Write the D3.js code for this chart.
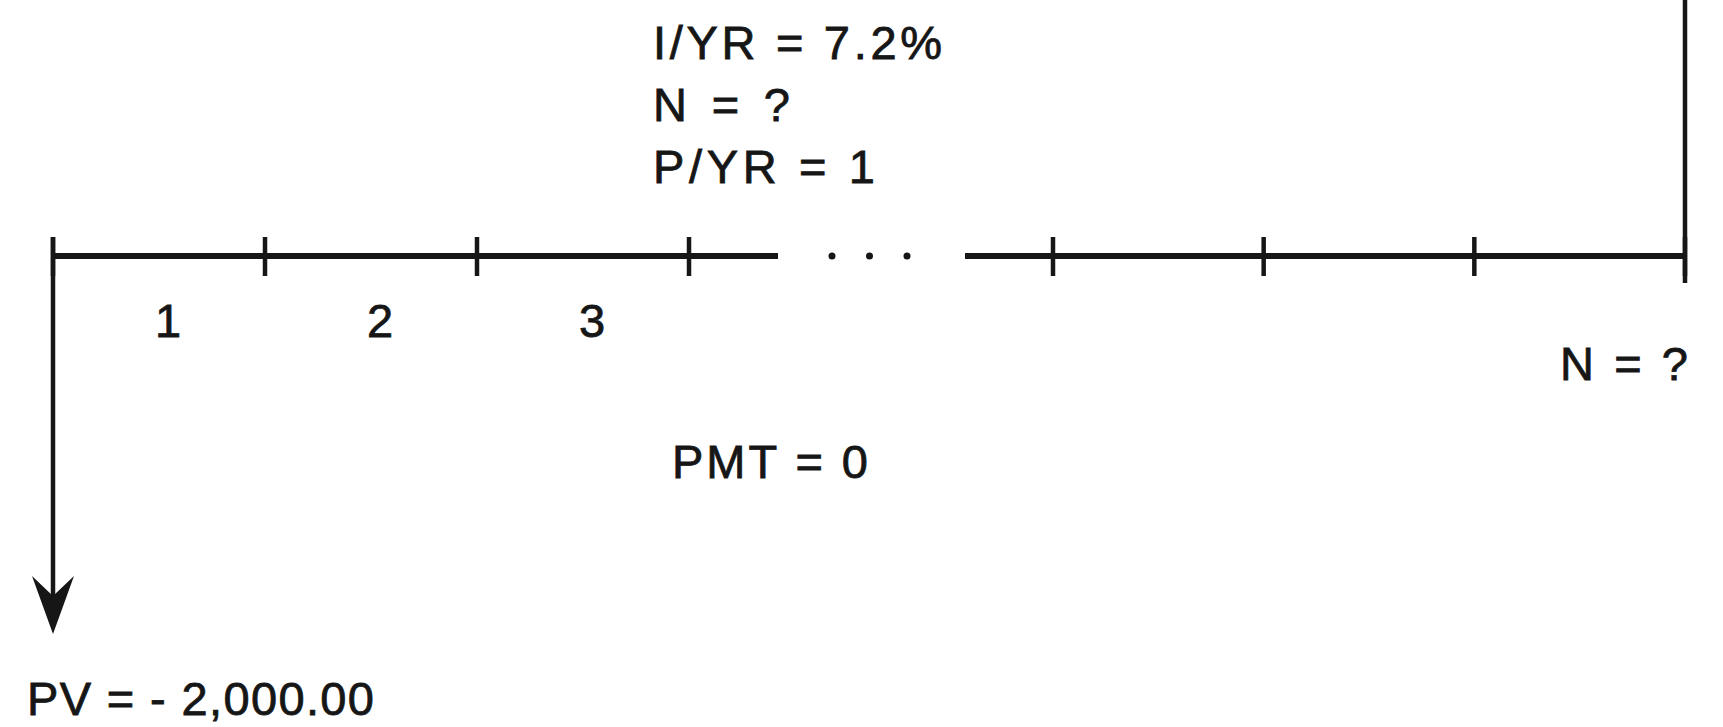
<!DOCTYPE html>
<html><head><meta charset="utf-8">
<script src="https://cdn.jsdelivr.net/npm/d3@7"></script>
<style>html,body{margin:0;padding:0;background:#fff;}svg{display:block;}</style>
</head><body>
<svg id="chart" width="1723" height="727"></svg>
<script>
// ---- data ----
const tickPeriods = ["0", "1", "2", "3", "N-3", "N-2", "N-1", "N"];
const periodLabels = ["1", "2", "3"];
const inputLines = ["I/YR = 7.2%", "N = ?", "P/YR = 1"];
const pmtLabel = "PMT = 0";
const pvLabel = "PV = - 2,000.00";
const nLabel = "N = ?";
const cashFlowPeriods = ["0", "N"];
const cashFlowAmounts = [-2000, 1500];
const ellipsisDots = [0, 1, 2];

// ---- layout ----
const svg = d3.select("#chart");
const axisY = 256;
const font = "'Liberation Sans Narrow', 'Liberation Sans', Arial, sans-serif";
const ink = "#161616";
const fs = 47;

// piecewise scale: periods 0..3, break, N-3..N
const xIdx = d3.scaleLinear().domain([0, 3, 4, 7]).range([53, 689, 1053, 1685]);
const x = p => xIdx(tickPeriods.indexOf(p));
const y = d3.scaleLinear().domain([-2000, 0]).range([634, axisY]);

// timeline segments
const segs = [[x("0"), x("3") + 89], [x("N-3") - 88, x("N")]];
svg.selectAll("line.seg").data(segs).join("line")
  .attr("x1", d => d[0]).attr("x2", d => d[1])
  .attr("y1", axisY).attr("y2", axisY)
  .attr("stroke", ink).attr("stroke-width", 6);

// ellipsis dots
const dotX = d3.scaleLinear().domain([0, 2]).range([x("3") + 143, x("N-3") - 146]);
svg.selectAll("circle.dot").data(ellipsisDots).join("circle")
  .attr("cx", d => dotX(d)).attr("cy", axisY).attr("r", 3.5).attr("fill", ink);

// ticks
svg.selectAll("line.tick").data(tickPeriods).join("line")
  .attr("x1", d => x(d)).attr("x2", d => x(d))
  .attr("y1", axisY - 19).attr("y2", axisY + 20)
  .attr("stroke", ink).attr("stroke-width", 4.5);

function txt(sel) {
  return sel.attr("font-family", font).attr("font-size", fs).attr("fill", ink)
    .attr("stroke", ink).attr("stroke-width", 0.8).attr("lengthAdjust", "spacing");
}

// period labels
svg.selectAll("text.per").data(periodLabels).join("text")
  .attr("x", (d, i) => (x(tickPeriods[i]) + x(tickPeriods[i + 1])) / 2 + 9)
  .attr("y", 337)
  .attr("text-anchor", "middle")
  .call(txt)
  .text(d => d);

// cash flows
cashFlowPeriods.forEach((p, i) => {
  const a = cashFlowAmounts[i];
  const cx = x(p);
  if (a < 0) {
    const tip = y(a);
    svg.append("line").attr("x1", cx).attr("x2", cx)
      .attr("y1", axisY - 19).attr("y2", tip - 30)
      .attr("stroke", ink).attr("stroke-width", 4.5);
    svg.append("path")
      .attr("d", `M${cx},${tip} L${cx - 21},${tip - 58} L${cx},${tip - 38} L${cx + 21},${tip - 58} Z`)
      .attr("fill", ink);
  } else {
    svg.append("line").attr("x1", cx).attr("x2", cx)
      .attr("y1", axisY + 27).attr("y2", y(-a) - 2 * (y(-a) - axisY))
      .attr("stroke", ink).attr("stroke-width", 4.5);
  }
});

// input text block
svg.selectAll("text.inp").data(inputLines).join("text")
  .attr("x", 653).attr("y", (d, i) => 59 + i * 62)
  .call(txt)
  .attr("textLength", (d, i) => [289, 137, 222][i])
  .text(d => d);

svg.append("text").attr("x", 672).attr("y", 478)
  .call(txt).attr("textLength", 196)
  .text(pmtLabel);

svg.append("text").attr("x", 27).attr("y", 715)
  .call(txt).attr("textLength", 347)
  .text(pvLabel);

svg.append("text").attr("x", 1560).attr("y", 380)
  .call(txt).attr("textLength", 128)
  .text(nLabel);
</script>
</body></html>
